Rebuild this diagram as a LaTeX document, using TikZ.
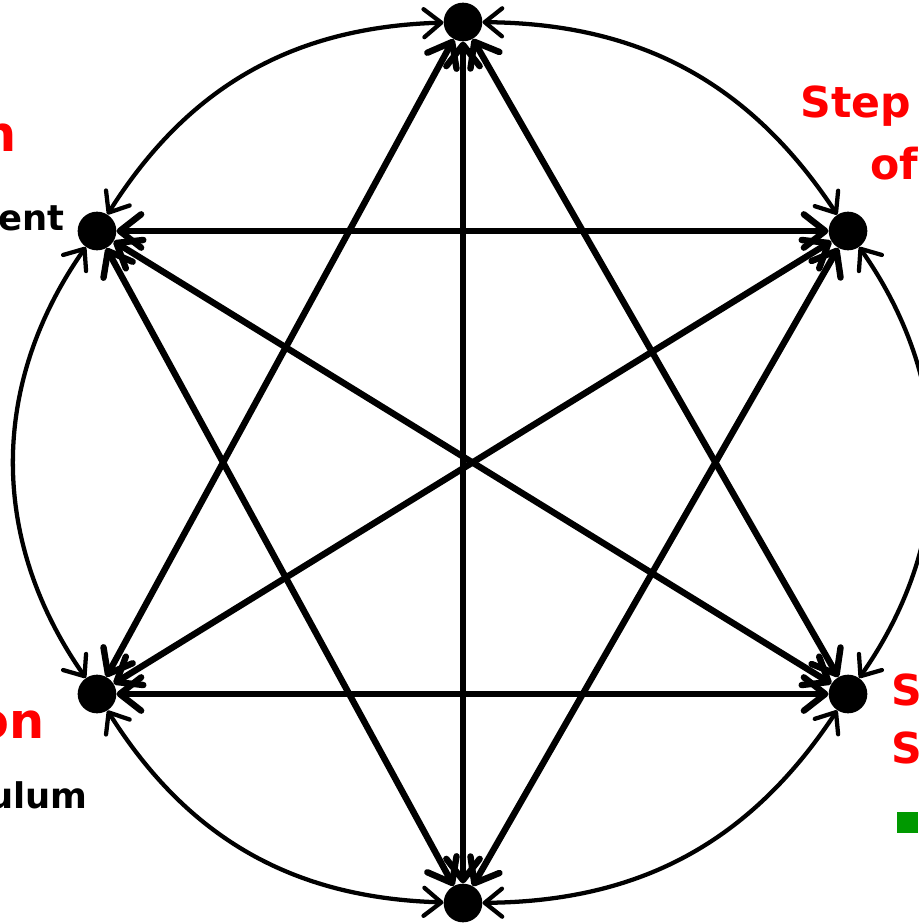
\documentclass[tikz,border=0pt]{standalone}
\usepackage{fontspec}
\setmainfont{DejaVu Sans}
\usetikzlibrary{arrows.meta}
\definecolor{bulletgreen}{RGB}{0,153,0}
\begin{document}
\begin{tikzpicture}[x=0.75pt,y=-0.75pt,
  dot/.style={circle,fill=black,minimum size=29pt,inner sep=0pt},
  chord/.style={line width=4.8pt,{Straight Barb[length=16pt,width=25pt,round]}-{Straight Barb[length=16pt,width=25pt,round]}},
  rim/.style={line width=3.2pt,{Straight Barb[length=13pt,width=21pt,round]}-{Straight Barb[length=13pt,width=21pt,round]}},
  redbig/.style={text=red,font=\bfseries\fontsize{37}{40}\selectfont,inner sep=0pt},
  redlbl/.style={text=red,font=\bfseries\fontsize{32}{36}\selectfont,inner sep=0pt},
  blacklbl/.style={text=black,font=\bfseries\fontsize{26.5}{30}\selectfont,inner sep=0pt}]
\clip (0,0) rectangle (919,923);
% nodes
\node[dot] (T)  at (463,22) {};
\node[dot] (B)  at (463,903) {};
\node[dot] (UL) at (97,231) {};
\node[dot] (UR) at (848,231) {};
\node[dot] (LL) at (97,694) {};
\node[dot] (LR) at (848,694) {};
% rim arcs
\draw[rim] (T)  to[bend right=28] (UL);
\draw[rim] (UL) to[bend right=35] (LL);
\draw[rim] (LL) to[bend right=28] (B);
\draw[rim] (B)  to[bend right=28] (LR);
\draw[rim] (LR) to[bend right=35] (UR);
\draw[rim] (UR) to[bend right=28] (T);
% chords
\draw[chord] (UL) -- (UR);
\draw[chord] (LL) -- (LR);
\draw[chord] (T) -- (B);
\draw[chord] (UL) -- (LR);
\draw[chord] (UR) -- (LL);
\draw[chord] (T) -- (LL);
\draw[chord] (T) -- (LR);
\draw[chord] (B) -- (UL);
\draw[chord] (B) -- (UR);
% labels
\node[redbig,anchor=base east] (l1) at (17,152) {n};
\node[blacklbl,anchor=base east] (l2) at (65,231) {ent};
\node[redlbl,anchor=base west] (l3) at (800,118) {Step};
\node[redlbl,anchor=base west] (l4) at (870,180) {of};
\node[redbig,anchor=base east] (l5) at (45,738) {on};
\node[blacklbl,anchor=base east] (l6) at (88,808) {ulum};
\node[redlbl,anchor=base west] (l7) at (891,705) {S};
\node[redlbl,anchor=base west] (l8) at (891,763) {S};
\fill[bulletgreen] (897,812) rectangle (918,833);
\end{tikzpicture}
\end{document}
